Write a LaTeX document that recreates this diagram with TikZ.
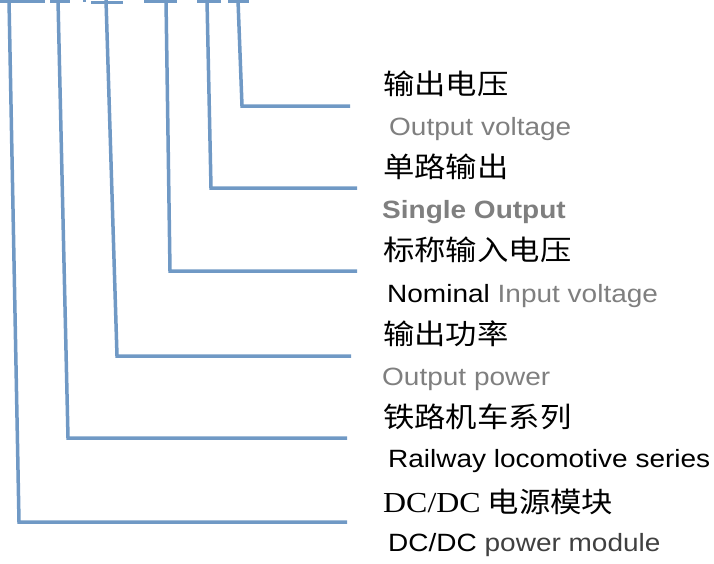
\documentclass[tikz,border=0pt]{standalone}
\usepackage{fontspec}
\setmainfont{Liberation Sans}[FakeStretch=1.12]
\newfontfamily\cjk{Noto Sans CJK SC}[FakeStretch=1.12]
\newfontfamily\tms{Liberation Serif}[FakeStretch=1.1]
\definecolor{leadblue}{HTML}{7099C5}
\definecolor{txtgray}{HTML}{7F7F7F}
\definecolor{txtdark}{HTML}{404040}
\tikzset{
  lead/.style={draw=leadblue, line width=3.5pt, line cap=butt, line join=miter},
  bar/.style={draw=leadblue, line width=3.5pt, line cap=butt},
  cjklabel/.style={anchor=base west, inner sep=0pt, font=\cjk\fontsize{28}{32}\selectfont},
  enlabel/.style={anchor=base west, inner sep=0pt, font=\fontsize{25}{30}\selectfont},
}
\begin{document}
\begin{tikzpicture}[x=1pt, y=-1pt]
\useasboundingbox (0,0) rectangle (714,563);
% top bars (cut-off)
\draw[bar] (0,1.5) -- (45,1.5);
\draw[bar] (50,1.5) -- (70,1.5);
\draw[bar] (84.5,0) -- (84.5,2);
\draw[bar] (91,2.5) -- (123,2.5);
\draw[bar] (144,1.5) -- (177,1.5);
\draw[bar] (197,1.5) -- (221,1.5);
\draw[bar] (228,1.5) -- (249,1.5);
% leader coordinates
\coordinate (t6) at (238,0);   \coordinate (c6) at (242,106); \coordinate (e6) at (350,106);
\coordinate (t5) at (207,0);   \coordinate (c5) at (211,188); \coordinate (e5) at (357,188);
\coordinate (t4) at (166,0);   \coordinate (c4) at (170,271); \coordinate (e4) at (357,271);
\coordinate (t3) at (106,0);   \coordinate (c3) at (117,356); \coordinate (e3) at (351,356);
\coordinate (t2) at (58,0);    \coordinate (c2) at (68,438);  \coordinate (e2) at (347,438);
\coordinate (t1) at (9,0);     \coordinate (c1) at (19,522);  \coordinate (e1) at (347,522);
\draw[lead] (t6) -- (c6) -- (e6);
\draw[lead] (t5) -- (c5) -- (e5);
\draw[lead] (t4) -- (c4) -- (e4);
\draw[lead] (t3) -- (c3) -- (e3);
\draw[lead] (t2) -- (c2) -- (e2);
\draw[lead] (t1) -- (c1) -- (e1);
% labels
\node[cjklabel] (l6c) at (383,94) {输出电压};
\node[enlabel, text=txtgray] (l6e) at (389,135) {Output voltage};
\node[cjklabel] (l5c) at (383,177) {单路输出};
\node[enlabel, text=txtgray, font=\bfseries\fontsize{25}{30}\selectfont] (l5e) at (382,218) {Single Output};
\node[cjklabel] (l4c) at (383,260) {标称输入电压};
\node[enlabel] (l4e) at (387,302) {Nominal \textcolor{txtgray}{Input voltage}};
\node[cjklabel] (l3c) at (383,344) {输出功率};
\node[enlabel, text=txtgray] (l3e) at (382,385) {Output power};
\node[cjklabel] (l2c) at (383,427) {铁路机车系列};
\node[enlabel] (l2e) at (388,467) {Railway locomotive series};
\node[cjklabel] (l1c) at (383,512) {{\tms\fontsize{29}{32}\selectfont DC/DC} 电源模块};
\node[enlabel] (l1e) at (388,551) {DC/DC \textcolor{txtdark}{power module}};
\end{tikzpicture}
\end{document}
